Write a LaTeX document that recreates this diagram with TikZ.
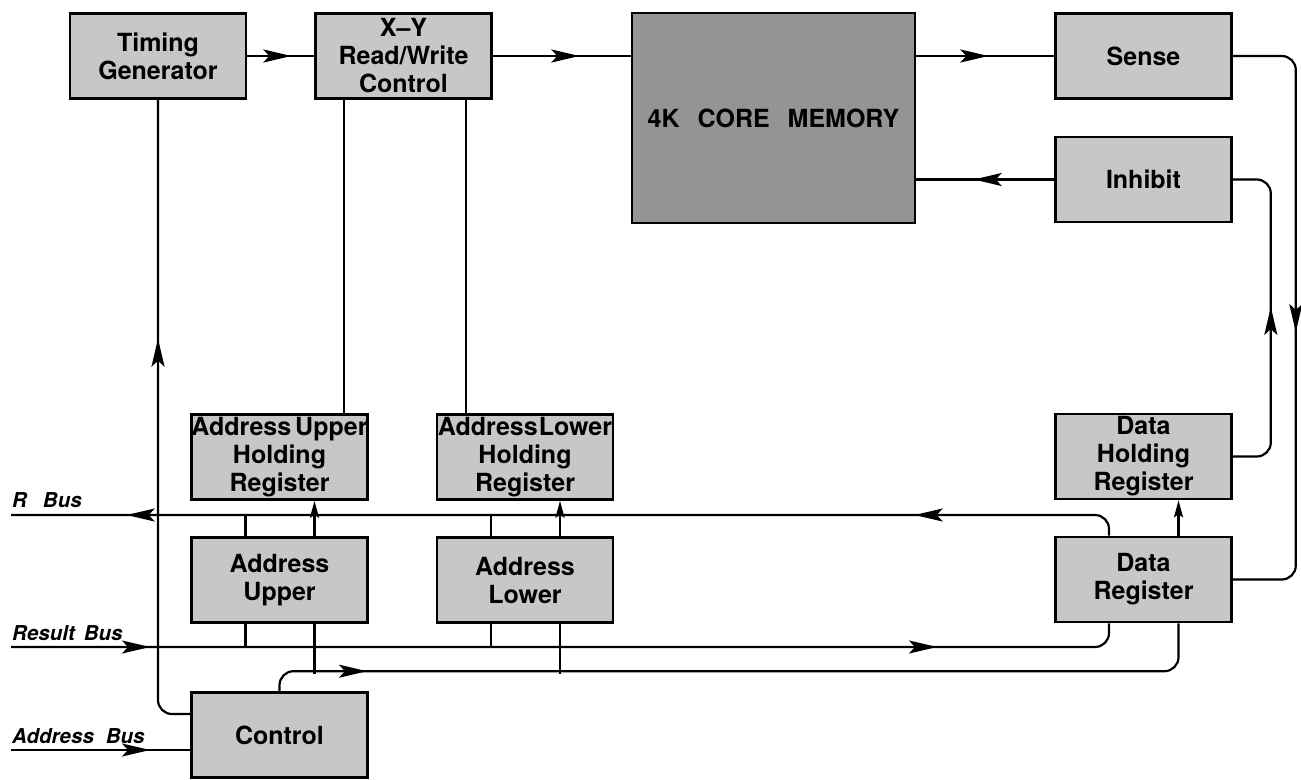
\documentclass[tikz,border=0pt]{standalone}
\usepackage{fontspec}
\setmainfont{TeX Gyre Heros}
\usepackage{tikz}
\usetikzlibrary{arrows.meta,calc,decorations.markings}

\tikzset{
  unit/.style={draw, line width=2.6pt, fill=black!22, minimum width=176pt,
    minimum height=85pt, inner sep=0pt, align=center,
    font=\fontsize{25}{28}\selectfont\bfseries},
  corebox/.style={unit, fill=black!42, minimum width=283pt, minimum height=210pt},
  link/.style={line width=2.2pt, rounded corners=14pt},
  arrowat/.style={postaction={decorate, decoration={markings,
    mark=at position #1 with {\arrow{Stealth[length=28pt,width=13pt,inset=6pt]}}}}},
  tickarr/.style={-{Stealth[length=17pt,width=9pt,inset=3pt]}},
  buslabel/.style={anchor=base west, inner sep=0pt,
    font=\fontsize{20.5}{24}\selectfont\bfseries\itshape},
}

\begin{document}
\begin{tikzpicture}[x=1pt,y=-1pt]
  \useasboundingbox (0,0) rectangle (1301,779);

  % Top row
  \node[unit] (tg) at (158,56) {Timing\\Generator};
  \node[unit] (xy) at (403.5,56) {X--Y\\Read/Write\\Control};
  \node[corebox] (core) at (773.5,118) {4K\hspace{18pt}CORE\hspace{18pt}MEMORY};
  \node[unit] (sense) at (1143.5,56) {Sense};
  \node[unit] (inh) at (1143.5,179.5) {Inhibit};

  % Registers
  \node[unit] (auhr) at (279.5,457) {Address\hspace{4pt}Upper\\Holding\\Register};
  \node[unit] (alhr) at (525,457) {Address\hspace{1pt}Lower\\Holding\\Register};
  \node[unit] (dhr) at (1143.5,456.5) {Data\\Holding\\Register};
  \node[unit] (au) at (279.5,580) {Address\\Upper};
  \node[unit] (al) at (525,580) {Address\\Lower};
  \node[unit] (dr) at (1143.5,579.5) {Data\\Register};
  \node[unit] (ctl) at (279.5,735) {Control};

  % Bus ends and labels
  \coordinate (rbusL) at (11,515);
  \coordinate (resL) at (11,647);
  \coordinate (adrL) at (11,750);
  \node[buslabel] (rbus) at (12,507) {R\hspace{16pt}Bus};
  \node[buslabel] (resbus) at (12,640) {Result\hspace{9pt}Bus};
  \node[buslabel] (adrbus) at (12,743) {Address\hspace{12pt}Bus};

  % Memory loop
  \draw[link, arrowat=44pt] (tg.east) -- (xy.west);
  \draw[link, arrowat=86.5pt] (xy.east) -- (core.west |- xy.east);
  \draw[link, arrowat=72pt] (core.east |- sense.west) -- (sense.west);
  \draw[link, arrowat=80.5pt] (inh.west) -- (core.east |- inh.west);
  \draw[link, arrowat=333pt] (sense.east) -- ++(63,0) |- (dr.east);
  \draw[link, arrowat=181.5pt] (dhr.east) -- ++(38,0) |- (inh.east);
  \draw[link, tickarr] ($(dr.north)+(35,0)$) -- ($(dhr.south)+(35,0)$);

  % X-Y control to holding registers
  \draw[link] ($(xy.south)+(-59.5,0)$) coordinate (t) -- (t |- auhr.north);
  \draw[link] ($(xy.south)+(62.5,0)$) coordinate (t) -- (t |- alhr.north);

  % Buses
  \draw[link, arrowat=209pt, arrowat=997pt] ($(dr.north)+(-34.5,0)$) |- (rbusL);
  \draw[link, arrowat=139pt, arrowat=926pt] (resL) -| ($(dr.south)+(-34.5,0)$);
  \draw[link, arrowat=101.5pt] (ctl.north) -- ++(0,-20) -| ($(dr.south)+(35,0)$);
  \draw[link, arrowat=139pt] (adrL) -- (ctl.west |- adrL);
  \draw[link, arrowat=401.5pt] ($(ctl.west)+(0,-21)$) -| (tg.south);

  % Address registers to buses
  \foreach \n/\h in {au/auhr, al/alhr} {
    \draw[link] ($(\n.north)+(-34,0)$) coordinate (t) -- (t |- rbusL);
    \draw[link, tickarr] ($(\n.north)+(35,0)$) -- ($(\h.south)+(35,0)$);
    \draw[link] ($(\n.south)+(-34,0)$) coordinate (t) -- (t |- resL);
    \draw[link] ($(\n.south)+(35,0)$) -- ++(0,50);
  }
\end{tikzpicture}
\end{document}
